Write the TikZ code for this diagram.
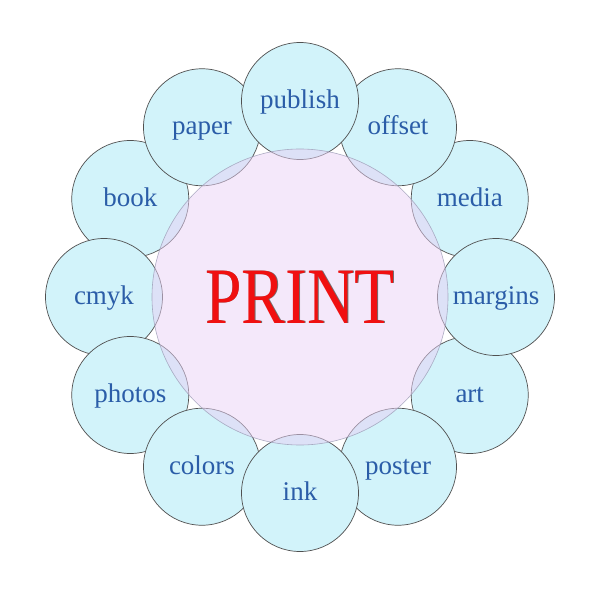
\documentclass[tikz,border=0pt]{standalone}
\usepackage{fontspec}
\setmainfont{Liberation Serif}
\usepackage{graphicx}

\definecolor{petalfill}{HTML}{D2F3FA}
\definecolor{petalline}{HTML}{505050}
\definecolor{hubfill}{HTML}{E9D1F5}
\definecolor{hubline}{HTML}{9A9AB4}
\definecolor{wordblue}{HTML}{2B5DA8}
\definecolor{printred}{HTML}{F01010}
\definecolor{printedge}{HTML}{707070}

\newcommand{\printword}{\scalebox{0.82}[1]{\fontsize{80}{80}\selectfont PRINT}}

\begin{document}
\begin{tikzpicture}[x=1pt,y=1pt]
    \useasboundingbox (-300,-303) rectangle (300,297);
    \tikzset{
        petal/.style={circle,draw=petalline,line width=0.7pt,fill=petalfill,
            minimum size=117pt,inner sep=0pt,text=wordblue,
            text height=20pt,text depth=5pt,
            font=\fontsize{27}{27}\selectfont},
        hub/.style={circle,draw=hubline,line width=0.6pt,fill=hubfill,
            fill opacity=0.5,draw opacity=0.8,text opacity=1,
            minimum size=296pt,inner sep=0pt}
    }
    \coordinate (O) at (0,0);
    % outer ring, back to front
    \node[petal] (book)    at (150:196) {book};
    \node[petal] (media)   at (30:196)  {media};
    \node[petal] (art)     at (-30:196) {art};
    \node[petal] (poster)  at (-60:196) {poster};
    \node[petal] (margins) at (0:196)   {margins};
    \node[petal] (paper)   at (120:196) {paper};
    \node[petal] (cmyk)    at (180:196) {cmyk};
    \node[petal] (offset)  at (60:196)  {offset};
    \node[petal] (photos)  at (-150:196) {photos};
    \node[petal] (colors)  at (-120:196) {colors};
    \node[petal] (ink)     at (-90:196) {ink};
    \node[petal] (publish) at (90:196)  {publish};
    % centre
    \node[hub] (print) at (O) {};
    \node[text=printedge] (shade) at ([shift={(0.7,-0.7)}]O) {\printword};
    \node[text=printred] (word) at (O) {\printword};
\end{tikzpicture}
\end{document}
